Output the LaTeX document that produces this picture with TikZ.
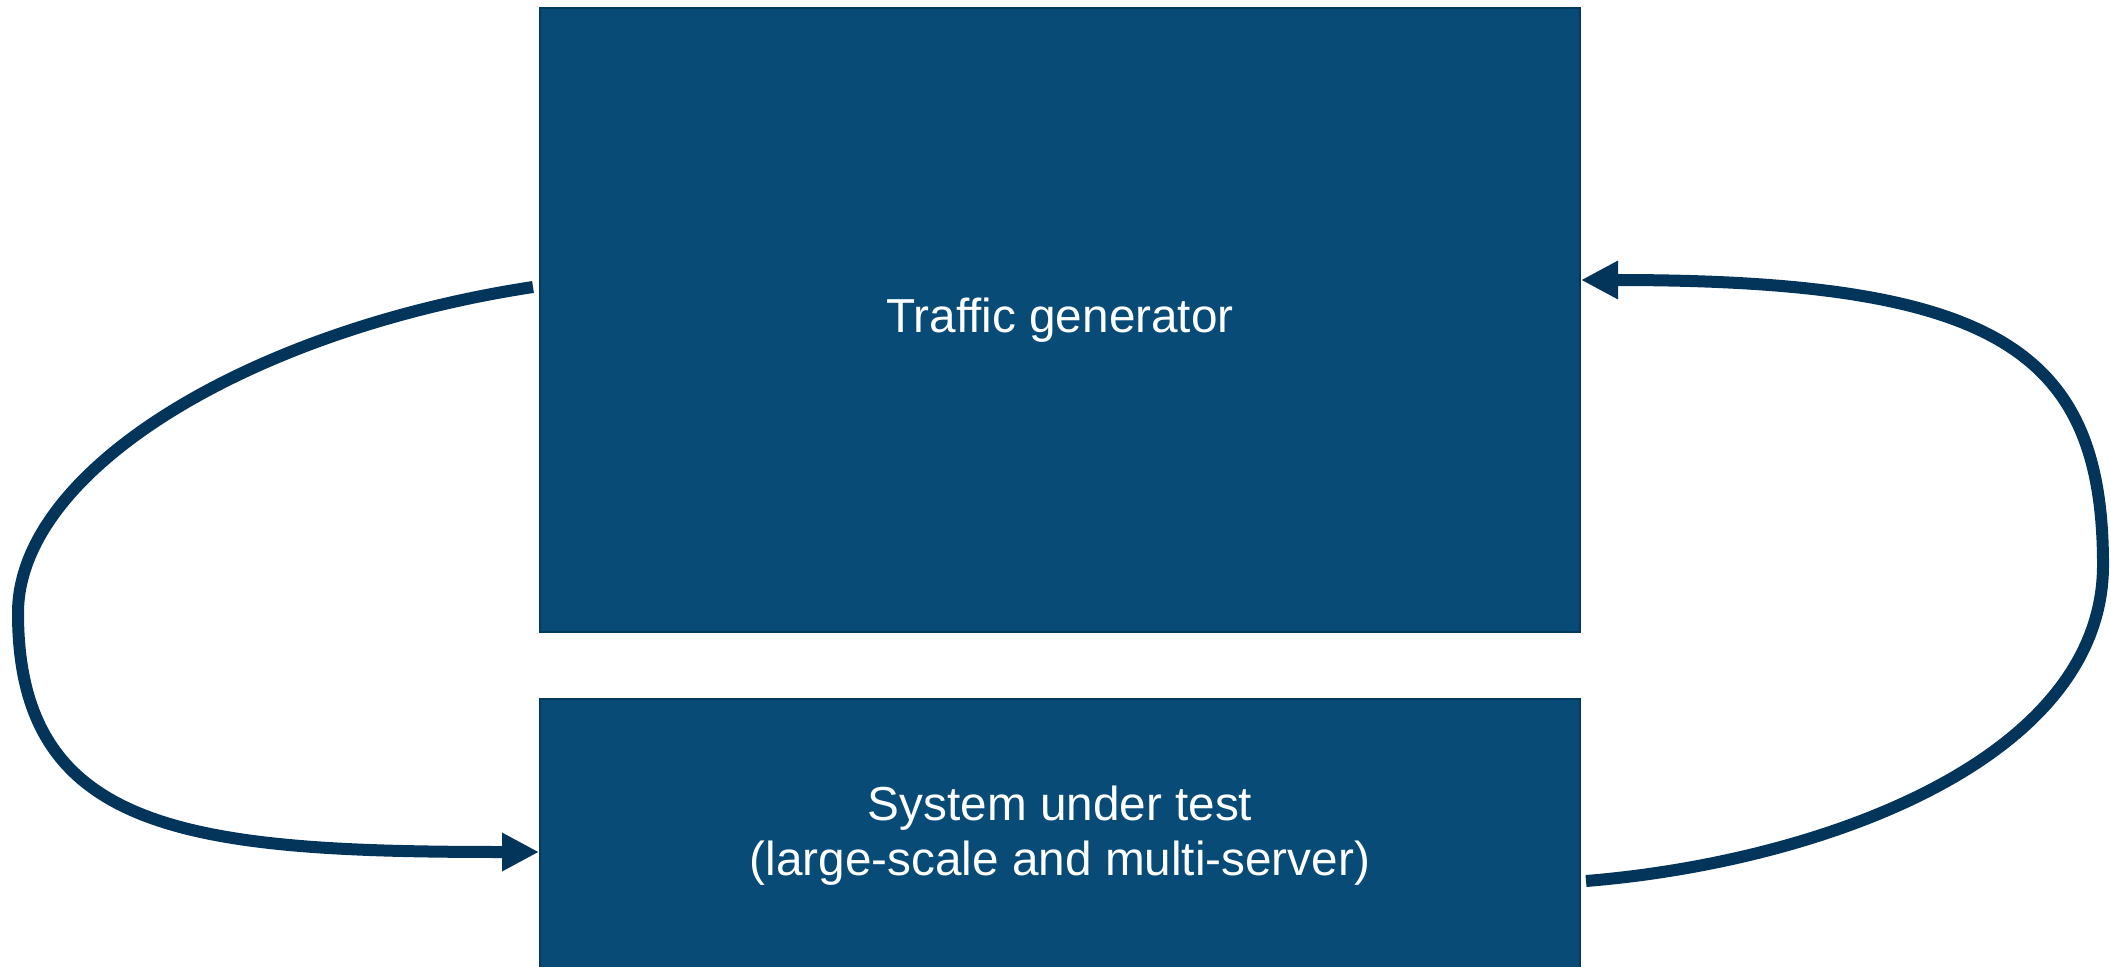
\documentclass[tikz,border=0pt]{standalone}
\usepackage{fontspec}
\setmainfont{Liberation Sans}
\usetikzlibrary{arrows.meta}
\definecolor{boxfill}{HTML}{084B77}
\definecolor{boxline}{HTML}{053A60}
\definecolor{flow}{HTML}{03355A}
\tikzset{
  block/.style={draw=boxline, line width=2pt, fill=boxfill, text=white,
    font=\fontsize{47.7}{55}\selectfont, align=center, inner sep=0pt},
  loop/.style={draw=flow, line width=12pt,
    -{Triangle[length=37pt,width=36pt]}},
}
\begin{document}
\begin{tikzpicture}[x=1pt,y=-1pt]
  \useasboundingbox (0,0) rectangle (2111,966);
  % the two blocks
  \node[block, minimum width=1040pt, minimum height=624pt] (tg) at (1060,320)
    {Traffic generator};
  \node[block, minimum width=1040pt, minimum height=274pt] (sut) at (1060,836)
    {System under test\\(large-scale and multi-server)};
  % generator feeds the system under test
  \draw[loop] ([shift={(-6,-33)}]tg.west)
    .. controls (250,330) and (18,470) .. (18,613)
    .. controls (18,833) and (190,852) .. ([shift={(0,16)}]sut.west);
  % responses come back to the generator
  \draw[loop] ([shift={(5,45)}]sut.east)
    .. controls (1820,862) and (2103,760) .. (2103,565)
    .. controls (2103,350) and (1996,280) .. ([shift={(0,-40)}]tg.east);
\end{tikzpicture}
\end{document}
